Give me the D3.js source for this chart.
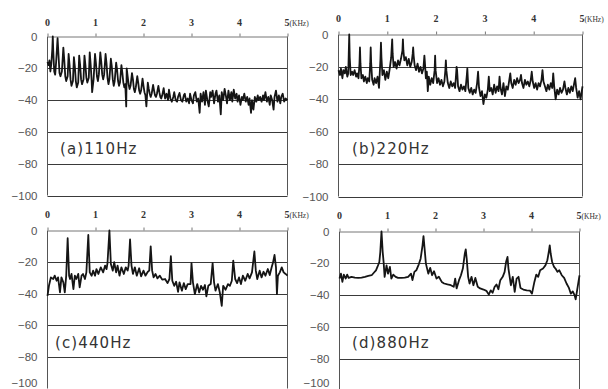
<!DOCTYPE html>
<html>
<head>
<meta charset="utf-8">
<script src="https://cdn.jsdelivr.net/npm/d3@7"></script>
<style>
  body { margin: 0; background: #fff; }
  svg { display: block; }
</style>
</head>
<body>
<svg id="chart" width="608" height="389"></svg>
<script>
// axis values
const xTicks = [0, 1, 2, 3, 4, 5];
const yTicks = [0, -20, -40, -60, -80, -100];
const panelNames = ["(a)110Hz", "(b)220Hz", "(c)440Hz", "(d)880Hz"];

// spectra: [frequency kHz, level dB]
const spec110 = [
  [0.00,-16],[0.02,-18],[0.04,-15],[0.06,-22],[0.08,-17],[0.10,-8],[0.11,0],[0.12,-9],[0.14,-22],[0.16,-24],
  [0.18,-16],[0.21,-1],[0.23,-12],[0.25,-23],[0.27,-25],[0.30,-22],[0.32,-12],[0.33,-7],[0.35,-15],[0.37,-25],
  [0.39,-28],[0.42,-25],[0.44,-11],[0.46,-18],[0.48,-27],[0.50,-31],[0.53,-28],[0.55,-13],[0.57,-19],[0.59,-28],
  [0.61,-32],[0.64,-29],[0.66,-12],[0.68,-18],[0.70,-27],[0.72,-30],[0.75,-27],[0.77,-12],[0.79,-18],[0.81,-26],
  [0.83,-29],[0.86,-26],[0.88,-10],[0.90,-18],[0.92,-28],[0.93,-35],[0.96,-27],[0.99,-11],[1.01,-17],[1.03,-25],
  [1.05,-28],[1.07,-24],[1.10,-10],[1.12,-16],[1.14,-24],[1.16,-27],[1.18,-24],[1.21,-11],[1.23,-17],[1.25,-26],
  [1.27,-30],[1.29,-27],[1.32,-14],[1.34,-19],[1.36,-27],[1.38,-31],[1.40,-28],[1.43,-16.5],[1.45,-21],[1.47,-28],
  [1.49,-31],[1.51,-29],[1.54,-18],[1.56,-23],[1.58,-29],[1.60,-32],[1.62,-30],[1.64,-44],[1.65,-20],[1.67,-25],
  [1.69,-30],[1.71,-33],[1.73,-31],[1.76,-23],[1.78,-27],[1.80,-33],[1.82,-35],[1.84,-32],[1.87,-25],[1.89,-29],
  [1.91,-34],[1.93,-36],[1.95,-34],[1.98,-26.5],[2.00,-31],[2.02,-35],[2.04,-37],[2.06,-44],[2.09,-29],[2.11,-33],
  [2.13,-36],[2.15,-38],[2.17,-36],[2.20,-30.5],[2.22,-34],[2.24,-37],[2.26,-38],[2.28,-36],[2.31,-31],[2.33,-35],
  [2.35,-38],[2.37,-39],[2.39,-37],[2.42,-32.5],[2.45,-39],[2.48,-36],[2.51,-40],[2.53,-33.5],[2.56,-39],[2.59,-41],
  [2.62,-38],[2.64,-35],[2.67,-40],[2.70,-41],[2.72,-38],[2.75,-35.5],[2.78,-40],[2.81,-41],[2.84,-37],[2.86,-36],
  [2.89,-41],[2.92,-39],[2.95,-42],[2.97,-36],[3.00,-40],[3.03,-42],[3.05,-37],[3.08,-35],[3.11,-41],[3.14,-39],
  [3.17,-48],[3.19,-36],[3.22,-41],[3.25,-35],[3.28,-43],[3.30,-34],[3.33,-40],[3.36,-44],[3.39,-35],[3.41,-38],
  [3.44,-34],[3.47,-42],[3.50,-36],[3.52,-34],[3.55,-41],[3.58,-37],[3.61,-49],[3.63,-35],[3.66,-40],[3.69,-33],
  [3.72,-38],[3.74,-42],[3.77,-34],[3.80,-40],[3.83,-35],[3.85,-41],[3.88,-33.5],[3.91,-39],[3.94,-36],[3.96,-41],
  [3.99,-37],[4.02,-43],[4.05,-38],[4.07,-40],[4.10,-36],[4.13,-41],[4.16,-38],[4.19,-43],[4.21,-39],[4.24,-48],
  [4.26,-40],[4.29,-46],[4.32,-38],[4.35,-41],[4.38,-37],[4.40,-40],[4.43,-38],[4.46,-41],[4.49,-37],[4.51,-40],
  [4.54,-35],[4.57,-41],[4.60,-38],[4.63,-43],[4.65,-37],[4.68,-40],[4.71,-46],[4.73,-38],[4.76,-34],[4.79,-41],
  [4.82,-37],[4.85,-42],[4.87,-38],[4.90,-36],[4.93,-41],[4.96,-39],[5.00,-40]
];

const spec220 = [
  [0.00,-22],[0.03,-25],[0.05,-21],[0.08,-27],[0.10,-22],[0.13,-24],[0.15,-20],[0.18,-26],[0.20,-24],[0.21,-12],
  [0.22,0],[0.23,-14],[0.25,-25],[0.28,-23],[0.30,-25],[0.33,-22],[0.36,-26],[0.38,-24],[0.41,-27],[0.43,-18],
  [0.44,-8],[0.45,-18],[0.47,-27],[0.50,-25],[0.52,-29],[0.55,-26],[0.58,-30],[0.60,-27],[0.63,-29],[0.65,-18],
  [0.66,-8],[0.67,-18],[0.69,-28],[0.72,-31],[0.74,-27],[0.77,-30],[0.80,-26],[0.83,-33],[0.86,-15],[0.87,-5],
  [0.88,-14],[0.90,-25],[0.93,-22],[0.96,-28],[0.99,-23],[1.02,-27],[1.05,-21],[1.08,-14],[1.10,-3],[1.11,-12],
  [1.13,-20],[1.16,-17],[1.19,-21],[1.22,-16],[1.25,-19],[1.28,-15],[1.31,-10],[1.32,-3],[1.33,-10],[1.35,-16],
  [1.38,-14],[1.41,-19],[1.44,-15],[1.47,-20],[1.50,-17],[1.52,-12],[1.53,-8],[1.54,-13],[1.56,-19],[1.59,-22],
  [1.62,-18],[1.65,-23],[1.68,-20],[1.71,-24],[1.74,-21],[1.76,-13],[1.77,-17],[1.79,-27],[1.81,-23],[1.83,-35],
  [1.85,-26],[1.88,-31],[1.91,-27],[1.94,-30],[1.97,-22],[1.98,-13],[1.99,-22],[2.02,-30],[2.05,-27],[2.08,-31],
  [2.11,-28],[2.14,-32],[2.17,-29],[2.19,-22],[2.20,-16],[2.21,-22],[2.24,-30],[2.27,-33],[2.30,-29],[2.33,-32],
  [2.36,-30],[2.39,-33],[2.42,-20],[2.43,-22],[2.45,-32],[2.48,-35],[2.51,-31],[2.54,-34],[2.57,-32],[2.60,-35],
  [2.63,-25],[2.64,-21],[2.66,-33],[2.69,-36],[2.72,-33],[2.75,-37],[2.78,-34],[2.81,-36],[2.84,-30],[2.86,-23],
  [2.88,-33],[2.91,-38],[2.94,-35],[2.97,-43],[3.00,-37],[3.03,-39],[3.06,-34],[3.08,-26],[3.10,-35],[3.13,-33],
  [3.16,-37],[3.19,-31],[3.22,-36],[3.25,-32],[3.28,-35],[3.30,-26],[3.32,-33],[3.35,-37],[3.38,-30],[3.41,-38],
  [3.44,-32],[3.47,-34],[3.50,-28],[3.52,-24],[3.54,-30],[3.57,-33],[3.60,-28],[3.63,-31],[3.66,-27],[3.69,-30],
  [3.72,-28],[3.74,-25],[3.76,-30],[3.79,-33],[3.82,-28],[3.85,-31],[3.88,-29],[3.91,-32],[3.94,-28],[3.96,-23],
  [3.98,-29],[4.01,-33],[4.04,-30],[4.07,-34],[4.10,-30],[4.13,-32],[4.16,-28],[4.18,-22],[4.20,-29],[4.23,-32],
  [4.26,-35],[4.29,-31],[4.32,-34],[4.35,-30],[4.38,-33],[4.40,-24],[4.42,-32],[4.45,-40],[4.48,-34],[4.51,-37],
  [4.54,-33],[4.57,-36],[4.60,-34],[4.63,-29],[4.65,-33],[4.68,-37],[4.71,-33],[4.74,-36],[4.77,-32],[4.80,-35],
  [4.83,-30],[4.85,-27],[4.87,-33],[4.90,-39],[4.93,-35],[4.96,-40],[5.00,-32]
];

const spec440 = [
  [0.00,-41.3],[0.03,-35],[0.07,-29.7],[0.12,-30.7],[0.15,-28.6],[0.19,-31.8],[0.22,-29.7],[0.26,-39.2],[0.29,-29.7],[0.33,-32.8],
  [0.36,-39.2],[0.39,-28.6],[0.42,-4.9],[0.45,-28.6],[0.47,-30.7],[0.50,-27.5],[0.54,-37.1],[0.57,-28.6],[0.60,-30.7],[0.64,-27.5],
  [0.67,-36],[0.71,-28.6],[0.74,-27.5],[0.78,-30.7],[0.81,-26.5],[0.85,-2.8],[0.88,-26.5],[0.92,-28.6],[0.95,-25.4],[0.99,-28.6],
  [1.02,-24.4],[1.06,-27.5],[1.11,-23.3],[1.16,-26.5],[1.20,-22.2],[1.23,-24.4],[1.25,-20.6],[1.29,0],[1.32,-21.2],[1.36,-25.4],
  [1.39,-20.1],[1.43,-26.5],[1.46,-22.2],[1.50,-28.6],[1.54,-23.3],[1.59,-27.5],[1.63,-23.3],[1.67,-25.4],[1.69,-22.2],[1.72,-5.7],
  [1.75,-22.2],[1.78,-27.5],[1.82,-23.3],[1.86,-28.6],[1.91,-23.9],[1.95,-29],[2.00,-25.4],[2.04,-28.6],[2.09,-26.1],[2.12,-25.4],
  [2.15,-10],[2.18,-25.4],[2.21,-29.7],[2.25,-27.5],[2.29,-30.3],[2.34,-28.6],[2.39,-31.1],[2.45,-30.7],[2.50,-33.3],[2.54,-30.7],
  [2.57,-16.3],[2.60,-31.8],[2.64,-35],[2.68,-32.4],[2.72,-38.8],[2.75,-32.8],[2.80,-38.1],[2.84,-33.3],[2.88,-37.1],[2.92,-33.9],
  [2.98,-33.9],[3.00,-20.6],[3.03,-32.8],[3.07,-40.3],[3.12,-33.9],[3.16,-39.2],[3.20,-35],[3.24,-37.5],[3.28,-34.5],[3.31,-41.7],
  [3.35,-35],[3.40,-33.9],[3.44,-20.6],[3.47,-32.8],[3.50,-38.1],[3.55,-33.9],[3.59,-39.2],[3.63,-47.7],[3.66,-35],[3.71,-37.5],
  [3.76,-33.9],[3.80,-35],[3.84,-31.8],[3.87,-19.1],[3.91,-30.7],[3.95,-33.3],[3.99,-29.7],[4.03,-33.9],[4.07,-28.6],[4.12,-31.8],
  [4.17,-27.5],[4.21,-30.3],[4.26,-26.5],[4.31,-13.3],[4.34,-25.4],[4.37,-30.7],[4.42,-25.4],[4.46,-29.7],[4.50,-26.1],[4.54,-28.6],
  [4.59,-24.4],[4.63,-28.2],[4.67,-23.3],[4.70,-20.1],[4.73,-15.5],[4.76,-23.3],[4.78,-40.3],[4.80,-28.6],[4.84,-26.5],[4.88,-23.3],
  [4.92,-26.5],[4.96,-27.5],[5.00,-28.6]
];

const spec880 = [
  [0.00,-29.6],[0.03,-26.5],[0.06,-31.7],[0.09,-27.1],[0.13,-29.6],[0.16,-27.1],[0.19,-29.2],[0.25,-28.5],[0.32,-29],[0.39,-29.2],
  [0.46,-29],[0.53,-28.5],[0.60,-27.9],[0.67,-27.5],[0.72,-25.8],[0.76,-24.4],[0.79,-22.3],[0.83,-19.2],[0.85,-12.9],[0.875,0],
  [0.90,-12.9],[0.92,-19.6],[0.94,-28.5],[0.98,-21.3],[1.01,-26.5],[1.05,-22.3],[1.08,-29.6],[1.12,-27.1],[1.17,-28.5],[1.22,-29.2],
  [1.29,-29.2],[1.36,-29],[1.43,-28.5],[1.49,-26.5],[1.52,-30.6],[1.56,-25.4],[1.60,-24.4],[1.65,-20.8],[1.69,-17.1],[1.73,-8.7],
  [1.75,-2.9],[1.77,-9.8],[1.80,-20.2],[1.85,-26.5],[1.89,-22.9],[1.93,-27.5],[1.97,-25],[2.02,-29.6],[2.07,-28.5],[2.13,-31.7],
  [2.18,-32.7],[2.25,-33.3],[2.32,-33.8],[2.38,-34.8],[2.41,-29.6],[2.44,-35.8],[2.49,-30.6],[2.53,-27.5],[2.57,-23.3],[2.61,-14],
  [2.63,-11.3],[2.65,-17.1],[2.68,-28.5],[2.71,-32.7],[2.75,-28.5],[2.79,-33.8],[2.83,-29.2],[2.88,-34.8],[2.93,-35.8],[3.00,-36.5],
  [3.06,-37.3],[3.11,-39.7],[3.15,-37],[3.19,-38.5],[3.23,-34.9],[3.27,-33.3],[3.31,-36.3],[3.35,-30.6],[3.40,-28.5],[3.44,-25.4],
  [3.47,-19.2],[3.50,-16],[3.52,-23.3],[3.54,-27.5],[3.57,-33.8],[3.61,-28.5],[3.65,-38],[3.69,-29.6],[3.73,-28.5],[3.77,-35.5],
  [3.83,-36.5],[3.90,-37],[3.97,-37.2],[4.01,-39.1],[4.06,-31.7],[4.10,-27.1],[4.14,-28.5],[4.18,-24.4],[4.24,-23.3],[4.29,-21.3],
  [4.33,-18.1],[4.36,-12.9],[4.38,-8.7],[4.40,-14],[4.43,-19.2],[4.47,-22.3],[4.50,-23.3],[4.54,-25.4],[4.58,-24.4],[4.63,-27.5],
  [4.68,-29.2],[4.73,-32.7],[4.78,-35.5],[4.82,-39.1],[4.86,-37.7],[4.90,-40.2],[4.92,-42.7],[4.95,-37],[5.00,-27.6]
];

// panel placement in the page
const panels = [
  { name: panelNames[0], data: spec110, left: 47.5, right: 287.5, top: 36.5, bottom: 195.5, tickY: 26, labelX: 60, labelY: 154 },
  { name: panelNames[1], data: spec220, left: 338.5, right: 582.5, top: 34.5, bottom: 196.5, tickY: 22, labelX: 352, labelY: 154 },
  { name: panelNames[2], data: spec440, left: 47.5, right: 287.5, top: 230.5, bottom: 388.5, tickY: 218, labelX: 55, labelY: 348 },
  { name: panelNames[3], data: spec880, left: 339.5, right: 579.5, top: 231.5, bottom: 390.5, tickY: 219, labelX: 352, labelY: 348 }
];

const svg = d3.select("#chart");

panels.forEach(p => {
  const x = d3.scaleLinear().domain([0, 5]).range([p.left, p.right]);
  const y = d3.scaleLinear().domain([-100, 0]).range([p.bottom, p.top]);
  const g = svg.append("g");

  // horizontal grid lines
  g.append("g").selectAll("line")
    .data(yTicks.slice(1))
    .join("line")
    .attr("x1", p.left).attr("x2", p.right)
    .attr("y1", d => Math.round(y(d)) + 0.5).attr("y2", d => Math.round(y(d)) + 0.5)
    .attr("stroke", "#3a3a3a").attr("stroke-width", 1);

  // side borders
  g.append("line").attr("x1", p.left).attr("x2", p.left).attr("y1", p.top).attr("y2", p.bottom)
    .attr("stroke", "#555");
  g.append("line").attr("x1", p.right).attr("x2", p.right).attr("y1", p.top).attr("y2", p.bottom)
    .attr("stroke", "#555");

  // top axis with small ticks
  g.append("g")
    .attr("transform", `translate(0,${p.top})`)
    .call(d3.axisTop(x).tickValues(xTicks).tickSize(3).tickSizeOuter(0).tickFormat(""))
    .call(a => a.select(".domain").attr("stroke", "#777"))
    .call(a => a.selectAll(".tick line").attr("stroke", "#777"));

  // x tick labels
  const xl = g.append("g").selectAll("text")
    .data(xTicks)
    .join("text")
    .attr("x", d => x(d))
    .attr("y", p.tickY)
    .attr("text-anchor", d => d === 5 ? "start" : "middle")
    .attr("dx", d => d === 5 ? -3 : 0)
    .attr("font-family", "Liberation Serif, serif")
    .attr("font-size", 10)
    .attr("font-weight", "bold")
    .attr("fill", "#333")
    .text(d => d);
  xl.filter(d => d === 5).append("tspan")
    .attr("font-size", 7.5).attr("font-weight", "normal")
    .text("(KHz)");

  // y tick labels (the lowest one is pulled up to stay inside the page)
  g.append("g").selectAll("text")
    .data(yTicks)
    .join("text")
    .attr("x", p.left - 10)
    .attr("y", d => Math.min(y(d), 383))
    .attr("dy", "0.35em")
    .attr("text-anchor", "end")
    .attr("font-family", "Liberation Sans, Arial, sans-serif")
    .attr("font-size", 11.5)
    .attr("fill", "#555")
    .text(d => d === 0 ? "0" : "\u2212" + Math.abs(d));

  // spectrum line
  g.append("path")
    .datum(p.data)
    .attr("fill", "none")
    .attr("stroke", "#151515")
    .attr("stroke-width", 1.8)
    .attr("stroke-linejoin", "round")
    .attr("d", d3.line().x(d => x(d[0])).y(d => y(d[1])));

  // panel label
  g.append("text")
    .attr("x", p.labelX)
    .attr("y", p.labelY)
    .attr("font-family", "DejaVu Sans, sans-serif")
    .attr("font-size", 15)
    .attr("letter-spacing", 1.1)
    .attr("fill", "#333")
    .text(p.name);
});
</script>
</body>
</html>
